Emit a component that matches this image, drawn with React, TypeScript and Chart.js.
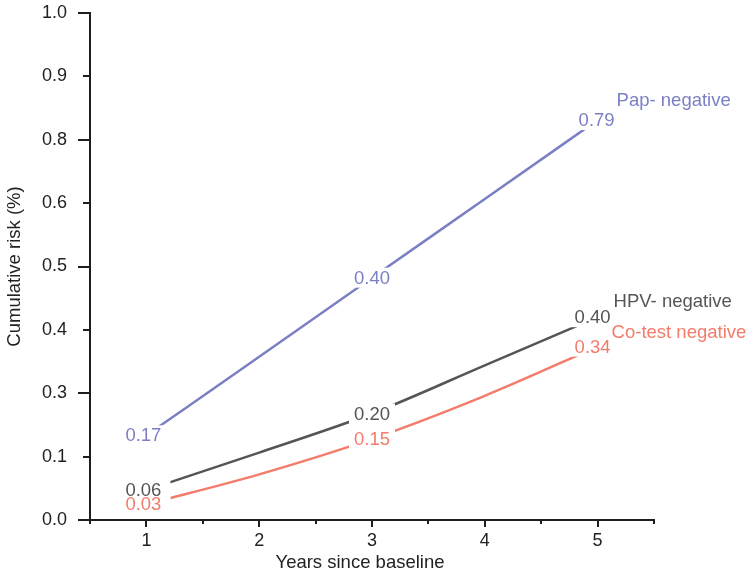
import React, { useEffect, useRef } from "react";
import { Chart, registerables } from "chart.js";

Chart.register(...registerables);

// ---- data ----
const years = [1, 2, 3, 4, 5];
const papRisk = [0.167, 0.322, 0.478, 0.633, 0.789];
const hpvRisk = [0.059, 0.133, 0.21, 0.305, 0.4];
const cotestRisk = [0.031, 0.09, 0.16, 0.245, 0.342];

const labelYears = [1, 3, 5];
const papLabels = ["0.17", "0.40", "0.79"];
const hpvLabels = ["0.06", "0.20", "0.40"];
const cotestLabels = ["0.03", "0.15", "0.34"];

const seriesNames = ["Pap- negative", "HPV- negative", "Co-test negative"];

const yTickValues = [0, 0.125, 0.25, 0.375, 0.5, 0.625, 0.75, 0.875, 1.0];
const yTickLabels = ["0.0", "0.1", "0.3", "0.4", "0.5", "0.6", "0.8", "0.9", "1.0"];
const xTickValues = [1, 2, 3, 4, 5];
const xMinorTickValues = [0.5, 1.5, 2.5, 3.5, 4.5, 5.5];
const xTitle = "Years since baseline";
const yTitle = "Cumulative risk (%)";

// ---- style ----
const FONT = "'Liberation Sans', Arial, Helvetica, sans-serif";
const LABEL_SIZE = 18.5;
const TICK_SIZE = 18;
const PAP_COLOR = "#7b7fc4";
const HPV_COLOR = "#555555";
const COTEST_COLOR = "#f47c6c";
const AXIS_COLOR = "#1e1e1e";
const TEXT_COLOR = "#222222";
const BOX_RIGHT_PAD = [9, 5, 5];
const BOX_LEFT_PAD = [5, 5, 5];

const seriesStyle = [
  { color: PAP_COLOR, values: papRisk, labels: papLabels, nameDx: 19, nameDy: -20, labelDx: [-3, 0, -1] },
  { color: HPV_COLOR, values: hpvRisk, labels: hpvLabels, nameDx: 16, nameDy: -16, labelDx: [-3, 0, -5] },
  { color: COTEST_COLOR, values: cotestRisk, labels: cotestLabels, nameDx: 14, nameDy: -15, labelDx: [-3, 0, -5] },
];

const overlayPlugin = {
  id: "overlay",
  afterDatasetsDraw(chart: any) {
    const ctx = chart.ctx;
    const xs = chart.scales.x;
    const ys = chart.scales.y;
    ctx.save();
    ctx.font = `${LABEL_SIZE}px ${FONT}`;
    ctx.textBaseline = "middle";
    ctx.textAlign = "center";
    const items: any[] = [];
    seriesStyle.forEach((s) => {
      labelYears.forEach((yr, i) => {
        const idx = years.indexOf(yr);
        const px = xs.getPixelForValue(yr) + s.labelDx[i];
        const py = ys.getPixelForValue(s.values[idx]);
        items.push({ px, py, text: s.labels[i], color: s.color, pos: i });
      });
    });
    // white knock-out boxes behind the value labels
    ctx.fillStyle = "#ffffff";
    items.forEach((it) => {
      const w = ctx.measureText(it.text).width;
      const l = BOX_LEFT_PAD[it.pos];
      const r = BOX_RIGHT_PAD[it.pos];
      ctx.fillRect(it.px - w / 2 - l, it.py - 10, w + l + r, 20);
    });
    items.forEach((it) => {
      ctx.fillStyle = it.color;
      ctx.fillText(it.text, it.px, it.py + 1);
    });
    // series names
    ctx.textAlign = "left";
    seriesStyle.forEach((s, i) => {
      const idx = years.length - 1;
      const px = xs.getPixelForValue(years[idx]) + s.nameDx;
      const py = ys.getPixelForValue(s.values[idx]) + s.nameDy;
      ctx.fillStyle = s.color;
      ctx.fillText(seriesNames[i], px, py + 1);
    });
    ctx.restore();
  },
  afterDraw(chart: any) {
    const ctx = chart.ctx;
    const xs = chart.scales.x;
    const ys = chart.scales.y;
    const area = chart.chartArea;
    ctx.save();
    ctx.strokeStyle = AXIS_COLOR;
    ctx.lineWidth = 2;
    ctx.lineCap = "butt";
    const x0 = Math.round(area.left);
    const y0 = Math.round(area.bottom);
    ctx.beginPath();
    ctx.moveTo(x0, Math.round(area.top) - 1);
    ctx.lineTo(x0, y0 + 1);
    ctx.moveTo(x0 - 1, y0);
    ctx.lineTo(Math.round(area.right) + 1, y0);
    yTickValues.forEach((v, i) => {
      const py = Math.round(ys.getPixelForValue(v));
      const len = i % 2 === 0 ? 12 : 7;
      ctx.moveTo(x0 - len, py);
      ctx.lineTo(x0, py);
    });
    xTickValues.forEach((v) => {
      const px = Math.round(xs.getPixelForValue(v));
      ctx.moveTo(px, y0);
      ctx.lineTo(px, y0 + 7);
    });
    xMinorTickValues.forEach((v) => {
      const px = Math.round(xs.getPixelForValue(v));
      ctx.moveTo(px, y0);
      ctx.lineTo(px, y0 + 4);
    });
    ctx.stroke();
    // x axis title (slightly left of the plot centre, as in the reference)
    ctx.fillStyle = TEXT_COLOR;
    ctx.font = `${LABEL_SIZE}px ${FONT}`;
    ctx.textAlign = "center";
    ctx.textBaseline = "middle";
    ctx.fillText(xTitle, (area.left + area.right) / 2 - 12, chart.height - 12);
    ctx.restore();
  },
};

export default function App() {
  const canvasRef = useRef<HTMLCanvasElement | null>(null);

  useEffect(() => {
    if (!canvasRef.current) return;
    const mk = (label: string, data: number[], color: string) => ({
      label,
      data: years.map((x, i) => ({ x, y: data[i] })),
      borderColor: color,
      backgroundColor: color,
      borderWidth: 2.5,
      pointRadius: 0,
      cubicInterpolationMode: "monotone" as const,
      fill: false,
    });
    const chart = new Chart(canvasRef.current, {
      type: "line",
      data: {
        datasets: [
          mk(seriesNames[0], papRisk, PAP_COLOR),
          mk(seriesNames[1], hpvRisk, HPV_COLOR),
          mk(seriesNames[2], cotestRisk, COTEST_COLOR),
        ],
      },
      options: {
        responsive: false,
        animation: false,
        devicePixelRatio: 1,
        layout: { padding: { top: 13, right: 93, left: 0, bottom: 0 } },
        plugins: { legend: { display: false }, tooltip: { enabled: false } },
        scales: {
          x: {
            type: "linear",
            min: 0.5,
            max: 5.5,
            afterFit: (s: any) => {
              s.height = 55;
              s.paddingLeft = 0;
              s.paddingRight = 0;
            },
            afterBuildTicks: (s: any) => {
              s.ticks = xTickValues.map((v) => ({ value: v }));
            },
            grid: { display: false, drawTicks: false },
            border: { display: false },
            ticks: {
              padding: 10,
              color: TEXT_COLOR,
              font: { family: FONT, size: TICK_SIZE },
              callback: (v: any) => String(v),
            },
            title: { display: false, text: xTitle },
          },
          y: {
            type: "linear",
            min: 0,
            max: 1,
            afterFit: (s: any) => {
              s.width = 90;
              s.paddingTop = 0;
              s.paddingBottom = 0;
            },
            afterBuildTicks: (s: any) => {
              s.ticks = yTickValues.map((v) => ({ value: v }));
            },
            grid: { display: false, drawTicks: false },
            border: { display: false },
            ticks: {
              padding: 23,
              color: TEXT_COLOR,
              font: { family: FONT, size: TICK_SIZE },
              callback: (_v: any, i: number) => yTickLabels[i],
            },
            title: {
              display: true,
              text: yTitle,
              color: TEXT_COLOR,
              font: { family: FONT, size: LABEL_SIZE },
              padding: { top: 4, bottom: 0 },
            },
          },
        },
      },
      plugins: [overlayPlugin],
    });
    return () => chart.destroy();
  }, []);

  return (
    <div style={{ position: "absolute", left: 0, top: 0, width: 747, height: 575, background: "#fff" }}>
      <canvas ref={canvasRef} width={747} height={575} style={{ display: "block" }} />
    </div>
  );
}
